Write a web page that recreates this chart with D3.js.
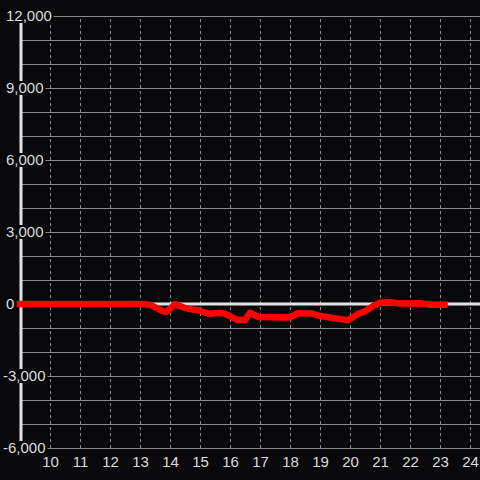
<!DOCTYPE html>
<html>
<head>
<meta charset="utf-8">
<script src="https://cdn.jsdelivr.net/npm/d3@7"></script>
<style>
  html, body { margin: 0; padding: 0; background: #08080a; }
  svg { display: block; }
</style>
</head>
<body>
<svg id="chart" width="480" height="480"></svg>
<script>
// hour of day
const hours = [9, 13, 13.33, 13.75, 13.9, 14.17, 14.5, 14.75, 15, 15.33, 15.6, 15.75, 16, 16.25, 16.5,
    16.67, 16.93, 17.5, 18, 18.25, 18.75, 19, 19.33, 19.75, 19.93, 20.25, 20.5, 20.75, 21, 21.33,
    21.67, 22, 22.33, 22.67, 23.15];
// value at each hour
const values = [0, 0, -30, -300, -320, 0, -170, -230, -280, -420, -370, -370, -500, -670, -670,
    -360, -540, -550, -560, -390, -400, -500, -560, -640, -680, -430, -300, -100, 60, 70,
    20, 20, 30, -30, -30];

const xTicks = [10, 11, 12, 13, 14, 15, 16, 17, 18, 19, 20, 21, 22, 23, 24];
const yGridTicks = d3.range(-6000, 12001, 1000);
const yLabelTicks = [-6000, -3000, 0, 3000, 6000, 9000, 12000];

const BG = "#08080a";
const TEXT = "#dcdcdc";
const GRID = "#8a8a8a";

const svg = d3.select("#chart");
const plotTop = 16, plotBottom = 448, plotLeft = 20;

const x = d3.scaleLinear().domain([9, 24]).range([plotLeft, 470]);
const y = d3.scaleLinear().domain([-6000, 12000]).range([plotBottom, plotTop]);

// vertical dashed grid
const xGrid = svg.append("g")
    .attr("transform", "translate(0," + plotBottom + ")")
    .call(d3.axisBottom(x).tickValues(xTicks).tickSize(-(plotBottom - plotTop)).tickFormat(""));
xGrid.select(".domain").remove();
xGrid.selectAll("line")
    .attr("stroke", GRID)
    .attr("stroke-dasharray", "3,3");

// horizontal grid
const yGrid = svg.append("g")
    .attr("transform", "translate(" + plotLeft + ",0)")
    .call(d3.axisRight(y).tickValues(yGridTicks).tickSize(480 - plotLeft).tickFormat(""));
yGrid.select(".domain").remove();
yGrid.selectAll("line").attr("stroke", GRID);

// zero line
svg.append("line")
    .attr("x1", plotLeft)
    .attr("x2", 480)
    .attr("y1", y(0))
    .attr("y2", y(0))
    .attr("stroke", "#e2e2e2")
    .attr("stroke-width", 3);

// y axis line
svg.append("line")
    .attr("x1", plotLeft + 1)
    .attr("x2", plotLeft + 1)
    .attr("y1", plotTop)
    .attr("y2", plotBottom)
    .attr("stroke", "#e2e2e2")
    .attr("stroke-width", 3);

// series
const line = d3.line()
    .x((d, i) => x(hours[i]))
    .y(d => y(d));

svg.append("path")
    .datum(values)
    .attr("d", line)
    .attr("fill", "none")
    .attr("stroke", "#ff0000")
    .attr("stroke-width", 6.5)
    .attr("stroke-linejoin", "round")
    .attr("stroke-linecap", "square");

// x labels
const xAxis = svg.append("g")
    .attr("transform", "translate(0," + plotBottom + ")")
    .call(d3.axisBottom(x).tickValues(xTicks).tickSize(0).tickPadding(8));
xAxis.select(".domain").remove();
xAxis.selectAll("text")
    .attr("fill", TEXT)
    .attr("font-family", "'Liberation Sans', Arial, sans-serif")
    .attr("font-size", 15);

// y labels with background boxes
const fmt = d3.format(",");
const yLabels = svg.append("g")
    .selectAll("g")
    .data(yLabelTicks)
    .join("g")
    .attr("transform", d => "translate(" + (d < 0 ? 3 : 6) + "," + y(d) + ")");

yLabels.append("text")
    .attr("fill", TEXT)
    .attr("font-family", "'Liberation Sans', Arial, sans-serif")
    .attr("font-size", 15)
    .attr("dy", "0.36em")
    .text(d => fmt(d).replace("−", "-"));

yLabels.insert("rect", "text")
    .attr("fill", BG)
    .each(function() {
        const box = this.parentNode.querySelector("text").getBBox();
        d3.select(this)
            .attr("x", box.x - 2)
            .attr("y", -7)
            .attr("width", box.width + 4)
            .attr("height", 14);
    });
</script>
</body>
</html>
